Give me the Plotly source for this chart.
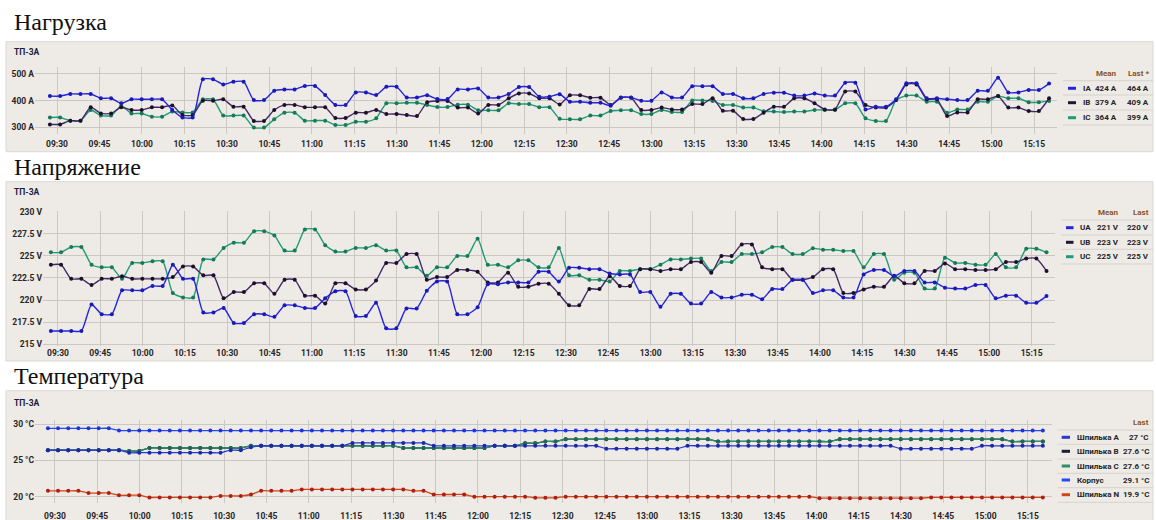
import plotly.graph_objects as go
import pandas as pd

W, H = 1156, 520

# ---------------- data ----------------
times = pd.date_range("2024-01-01 09:27:30", periods=99, freq="216s")  # 3.6 min sampling

ia = [417, 417, 425, 425, 425, 409, 409, 390, 405, 405, 405, 405,
      365, 337, 337,
      480, 480, 461, 471, 471, 402, 402, 437, 442, 442, 455, 455, 421, 384, 384, 431, 431, 421, 452, 452,
      412, 412, 420, 406, 406, 442, 442, 446, 412, 412, 425, 451, 451, 415, 415, 424, 396, 396, 392, 392,
      381, 412, 412, 400, 400, 431, 412, 412, 454, 454, 454, 425, 425, 409, 409, 425, 430,
      430, 419, 419, 427, 419, 419, 467, 467, 367, 377, 377, 405, 465, 465, 409, 409, 405, 402, 402, 437,
      437, 486, 431, 431, 440, 440, 464]
ib = [311, 311, 325, 325, 375, 352, 352, 375, 365, 365, 375, 375, 382, 346, 346, 400, 400, 405, 377, 377,
      324, 324, 365, 384, 384, 375, 375, 375, 335, 335, 355, 355, 365, 350, 350,
      346, 342, 394, 399, 399, 374, 374, 352, 384, 384, 409, 427, 427, 409, 409, 386, 420, 420, 411, 411,
      384, 411, 411, 365, 365, 374, 367, 367, 387, 387, 409, 362, 362, 331, 331, 355, 377,
      377, 409, 409, 390, 367, 367, 434, 434, 384, 374, 374, 402, 461, 461, 405, 405, 342, 356, 356, 405,
      405, 417, 374, 374, 361, 361, 409]
ic = [337, 337, 325, 325, 365, 344, 344, 380, 352, 352, 340, 340, 359, 356, 356, 405, 405, 344, 344, 344,
      299, 299, 330, 355, 355, 325, 325, 325, 309, 309, 321, 321, 334, 390, 390,
      392, 392, 384, 376, 376, 385, 385, 364, 364, 364, 390, 387, 387, 375, 375, 332, 330, 330, 344, 344,
      361, 364, 364, 350, 350, 365, 357, 357, 401, 401, 399, 384, 384, 374, 374, 360, 359,
      357, 359, 359, 365, 365, 365, 390, 390, 334, 324, 324, 402, 419, 419, 396, 396, 355, 367, 367, 396,
      396, 417, 409, 409, 394, 394, 399]

ua = [216.5, 216.5, 216.5, 216.5, 219.5, 218.4, 218.4, 221.1, 221.1, 221.1, 221.6, 221.6, 224.0, 222.4,
      222.4, 218.6, 218.6, 219.1, 217.4, 217.4, 218.4, 218.4, 218.1, 219.4, 219.4, 219.1, 219.1, 220.2,
      221.0, 221.0, 218.2, 218.2, 219.7, 216.8, 216.8,
      219.05, 219.05, 221.05, 222.1, 222.1, 218.4, 218.4, 219.2, 221.8, 221.8, 222.0, 222.0, 222.0, 223.2,
      223.2, 222.1, 223.65, 223.65, 223.5, 223.5, 223.0, 222.9, 222.9, 220.9, 220.9, 219.25, 220.7, 220.7,
      219.6, 219.6, 220.9, 220.3, 220.3, 220.6, 220.6, 220.1, 221.25,
      221.25, 222.3, 222.3, 220.8, 221.1, 221.1, 220.3, 220.3, 222.9, 223.4, 223.4, 222.7, 223.3, 223.3,
      222.0, 222.0, 221.4, 221.3, 221.3, 221.7, 221.7, 220.2, 220.5, 220.5, 219.7, 219.7, 220.45]
ub = [224.0, 224.0, 222.4, 222.4, 221.7, 222.4, 222.4, 222.7, 222.4, 222.4, 222.4, 222.4, 222.6, 223.8,
      223.8, 222.8, 222.8, 220.2, 220.9, 220.9, 221.9, 221.9, 220.7, 222.3, 222.3, 220.5, 220.5, 219.6,
      221.9, 221.9, 221.2, 221.2, 222.2, 224.2, 224.2,
      225.2, 225.2, 222.3, 222.6, 222.6, 223.4, 223.4, 223.2, 222.0, 222.0, 223.1, 221.5, 221.5, 221.85,
      221.85, 220.7, 219.4, 219.4, 221.25, 221.25, 222.7, 221.6, 221.6, 223.5, 223.5, 223.3, 223.5, 223.5,
      224.3, 224.3, 223.1, 225.0, 225.0, 226.3, 226.3, 223.7, 223.5,
      223.5, 222.3, 222.3, 222.6, 223.5, 223.5, 220.8, 220.8, 221.2, 221.5, 221.5, 222.75, 221.9, 221.9,
      223.3, 223.3, 224.15, 223.5, 223.5, 223.4, 223.4, 223.5, 224.3, 224.3, 224.7, 224.7, 223.3]
uc = [225.4, 225.4, 226.0, 226.0, 224.0, 223.7, 223.7, 222.4, 224.2, 224.2, 224.4, 224.4, 220.8, 220.3,
      220.3, 224.6, 224.6, 225.9, 226.5, 226.5, 227.8, 227.8, 227.3, 225.6, 225.6, 228.0, 228.0, 226.2,
      225.5, 225.5, 225.9, 225.9, 226.2, 225.6, 225.6,
      223.7, 223.7, 222.75, 223.7, 223.7, 225.0, 225.0, 226.95, 224.0, 224.0, 223.7, 224.5, 224.5, 223.7,
      223.7, 225.9, 222.8, 222.8, 222.3, 222.3, 222.1, 223.3, 223.3, 223.5, 223.5, 224.0, 224.6, 224.6,
      224.7, 224.7, 223.3, 224.3, 224.3, 225.2, 225.2, 225.4, 226.0,
      226.0, 225.2, 225.2, 225.85, 225.7, 225.7, 225.55, 225.55, 223.7, 225.2, 225.2, 222.3, 223.1, 223.1,
      221.3, 221.3, 224.8, 224.2, 224.2, 224.0, 224.0, 225.2, 223.7, 223.7, 225.8, 225.8, 225.4]

t_a = [26.4, 26.4, 26.4, 26.4, 26.4, 26.4, 26.4, 26.4,
       26.05, 26.05, 26.05, 26.05, 26.05, 26.05, 26.05, 26.05, 26.05, 26.05,
       26.4, 26.4, 26.8,
       27.0, 27.0, 27.0, 27.0, 27.0, 27.0, 27.0, 27.0, 27.0,
       27.4, 27.4, 27.4, 27.4, 27.4, 27.4, 27.4, 27.4,
       27.0, 27.0, 27.0, 27.0, 27.0, 27.0, 27.0, 27.0, 27.0, 27.0, 27.0, 27.0, 27.0, 27.0, 27.0, 27.0, 27.0,
       26.6, 26.6, 26.6, 26.6, 26.6, 26.6, 26.6, 26.6,
       27.0, 27.0, 27.0, 27.0, 27.0, 27.0, 27.0, 27.0, 27.0, 27.0, 27.0, 27.0, 27.0, 27.0, 27.0, 27.0, 27.0,
       27.0, 27.0, 27.0, 27.0,
       26.6, 26.6, 26.6, 26.6, 26.6, 26.6, 26.6, 26.6,
       27.0, 27.0, 27.0, 27.0, 27.0, 27.0, 27.0]
t_c = [26.4, 26.4, 26.4, 26.4, 26.4, 26.4, 26.4, 26.4,
       26.3, 26.3,
       26.7, 26.7, 26.7, 26.7, 26.7, 26.7, 26.7, 26.7, 26.7, 26.7,
       27.0, 27.0, 27.0, 27.0, 27.0, 27.0, 27.0, 27.0, 27.0, 27.0, 27.0, 27.0, 27.0, 27.0, 27.0,
       26.7, 26.7, 26.7, 26.7, 26.7, 26.7, 26.7, 26.7, 26.7,
       27.0, 27.0, 27.0,
       27.35, 27.35,
       27.6, 27.6,
       27.9, 27.9, 27.9, 27.9, 27.9, 27.9, 27.9, 27.9, 27.9, 27.9, 27.9, 27.9, 27.9, 27.9, 27.9,
       27.6, 27.6, 27.6, 27.6, 27.6, 27.6, 27.6, 27.6, 27.6, 27.6, 27.6, 27.6,
       27.9, 27.9, 27.9, 27.9, 27.9, 27.9, 27.9, 27.9, 27.9, 27.9, 27.9, 27.9, 27.9, 27.9, 27.9, 27.9, 27.9,
       27.6, 27.6, 27.6, 27.6]
t_b = list(t_c)
t_body = [29.4, 29.4, 29.4, 29.4, 29.4, 29.4, 29.4] + [29.1] * 92
t_n = [20.8, 20.8, 20.8, 20.8, 20.5, 20.5, 20.5, 20.2, 20.2, 20.2,
       19.9, 19.9, 19.9, 19.9, 19.9, 19.9, 19.9, 20.1, 20.1, 20.1, 20.3,
       20.8, 20.8, 20.8, 20.8,
       21.0, 21.0, 21.0, 21.0, 21.0, 21.0, 21.0, 21.0, 21.0, 21.0, 21.0,
       20.8, 20.8, 20.3, 20.3, 20.3, 20.3,
       20.0, 20.0, 20.0, 20.0, 20.0, 20.0, 19.85, 19.85, 19.85,
       20.0, 20.0, 20.0, 20.0, 20.0, 20.0, 20.0, 20.0, 20.0, 20.0, 20.0, 20.0, 20.0, 20.0, 20.0, 20.0, 20.0,
       20.0, 20.0, 20.0, 20.0, 20.0, 20.0, 20.0, 20.0,
       19.8, 19.8, 19.8, 19.8, 19.8, 19.8, 19.8, 19.8, 19.8, 19.8, 19.8,
       19.9, 19.9, 19.9, 19.9, 19.9, 19.9, 19.9, 19.9, 19.9, 19.9, 19.9, 19.9]

load_ticks = [300, 400, 500]
load_ticktext = ["300 A", "400 A", "500 A"]
volt_ticks = [215, 217.5, 220, 222.5, 225, 227.5, 230]
volt_ticktext = ["215 V", "217.5 V", "220 V", "222.5 V", "225 V", "227.5 V", "230 V"]
temp_ticks = [20, 25, 30]
temp_ticktext = ["20 °C", "25 °C", "30 °C"]

load_names = ["IA", "IB", "IC"]
load_mean = ["424 A", "379 A", "364 A"]
load_last = ["464 A", "409 A", "399 A"]
volt_names = ["UA", "UB", "UC"]
volt_mean = ["221 V", "223 V", "225 V"]
volt_last = ["220 V", "223 V", "225 V"]
temp_names = ["Шпилька A", "Шпилька B", "Шпилька C", "Корпус", "Шпилька N"]
temp_last = ["27 °C", "27.6 °C", "27.6 °C", "29.1 °C", "19.9 °C"]

titles = ["Нагрузка", "Напряжение", "Температура"]
panel_label = "ТП-3А"

# ---------------- styling ----------------
C_BLUE, C_BLUE_M = "#2424e0", "#1a1ab4"
C_DARK, C_DARK_M = "#43286a", "#1c1024"
C_GREEN, C_GREEN_M = "#1e9c76", "#17785a"
T_COLORS = [("#2838d0", "#1c28a8"), ("#1c1c34", "#141428"), ("#2a9070", "#1d6c52"),
            ("#2448ff", "#1c36d8"), ("#d2461c", "#b01e0e")]
PANEL_BG = "#eeeae6"
PANEL_BORDER = "#dcd8d2"
GRID = "#cbc7c2"
TXT = "#262626"
FONT = "Roboto"


def fx(x):
    return x / W


def fy(y):
    return 1 - y / H


fig = go.Figure()


def add(xa, ya, y, name, lc, mc, width=1.4, msize=4):
    fig.add_trace(go.Scatter(
        x=times, y=y, name=name, mode="lines+markers", xaxis=xa, yaxis=ya,
        line=dict(color=lc, width=width, shape="spline", smoothing=0.6),
        marker=dict(color=mc, size=msize), showlegend=False, hoverinfo="skip"))


add("x", "y", ic, "IC", C_GREEN, C_GREEN_M)
add("x", "y", ib, "IB", C_DARK, C_DARK_M)
add("x", "y", ia, "IA", C_BLUE, C_BLUE_M)
add("x2", "y2", uc, "UC", C_GREEN, C_GREEN_M)
add("x2", "y2", ub, "UB", C_DARK, C_DARK_M)
add("x2", "y2", ua, "UA", C_BLUE, C_BLUE_M)
temp_series = [t_a, t_b, t_c, t_body, t_n]
for idx in [1, 2, 0, 3, 4]:
    add("x3", "y3", temp_series[idx], temp_names[idx], T_COLORS[idx][0], T_COLORS[idx][1],
        width=1.3, msize=4)

tickfont = dict(family=FONT, size=8.5, color=TXT, weight="bold")


def xaxis(dom, rng, standoff):
    return dict(domain=[fx(dom[0]), fx(dom[1])], type="date",
                range=["2024-01-01 " + rng[0], "2024-01-01 " + rng[1]],
                tickformat="%H:%M", dtick=15 * 60 * 1000, tick0="2024-01-01 09:30",
                showgrid=True, gridcolor=GRID, gridwidth=1, zeroline=False, showline=False,
                ticks="", tickfont=tickfont, automargin=False, fixedrange=True,
                ticklabelstandoff=standoff)


def yaxis(dom, rng, tv, tt, xa):
    return dict(domain=[fy(dom[1]), fy(dom[0])], range=rng, tickvals=tv, ticktext=tt,
                showgrid=True, gridcolor=GRID, gridwidth=1, zeroline=False, showline=False,
                ticks="", tickfont=tickfont, automargin=False, anchor=xa, fixedrange=True)


fig.update_layout(
    width=W, height=H, margin=dict(l=0, r=0, t=0, b=0),
    paper_bgcolor="white", plot_bgcolor="rgba(0,0,0,0)",
    xaxis=dict(xaxis((35, 1057), ("09:22:14", "15:23:06"), 3), anchor="y"),
    yaxis=yaxis((67, 134), [274.9, 526.2], load_ticks, load_ticktext, "x"),
    xaxis2=dict(xaxis((43, 1055), ("09:24:42", "15:23:18"), 0), anchor="y2"),
    yaxis2=yaxis((211, 346), [214.8, 230.08], volt_ticks, volt_ticktext, "x2"),
    xaxis3=dict(xaxis((35, 1052), ("09:22:55", "15:23:33"), 6), anchor="y3"),
    yaxis3=yaxis((420, 503), [19.13, 30.55], temp_ticks, temp_ticktext, "x3"),
)

shapes = []
annotations = []

# panels
for (top, bottom) in [(41.7, 151.7), (181.7, 361), (390.7, 530)]:
    shapes.append(dict(type="rect", xref="paper", yref="paper", x0=fx(6), x1=fx(1153),
                       y0=fy(bottom), y1=fy(top), fillcolor=PANEL_BG,
                       line=dict(color=PANEL_BORDER, width=1), layer="below"))

# section titles
for title, yc in zip(titles, [22.5, 166.5, 375.5]):
    annotations.append(dict(text=title, xref="paper", yref="paper", x=fx(12), y=fy(yc),
                            xanchor="left", yanchor="middle", showarrow=False,
                            font=dict(family="Liberation Serif", size=24, color="#111")))

# panel labels
for yc in [52.5, 191.7, 402.7]:
    annotations.append(dict(text=panel_label, xref="paper", yref="paper", x=fx(11.5), y=fy(yc),
                            xanchor="left", yanchor="middle", showarrow=False,
                            font=dict(family=FONT, size=8.5, color="#1c1c3c", weight="bold")))

legfont = dict(family=FONT, size=8, color=TXT, weight="bold")
hdrfont = dict(family=FONT, size=8, color="#8a5526", weight="bold")


def ann(text, x, y, anchor, font):
    annotations.append(dict(text=text, xref="paper", yref="paper", x=fx(x), y=fy(y),
                            xanchor=anchor, yanchor="middle", showarrow=False, font=font))


def hline(x0, x1, y, color, width):
    shapes.append(dict(type="line", xref="paper", yref="paper", x0=fx(x0), x1=fx(x1),
                       y0=fy(y), y1=fy(y), line=dict(color=color, width=width)))


# legend: load
ann("Mean", 1119, 73.3, "right", hdrfont)
ann("Last *", 1151, 73.3, "right", hdrfont)
for y in [80.7, 95, 110, 125]:
    hline(1063, 1153, y, "#d6d2cc", 1)
for i, (yc, col) in enumerate(zip([88.3, 102.7, 117.7], [C_BLUE, "#1c1a2e", C_GREEN])):
    hline(1068, 1076, yc, col, 3)
    ann(load_names[i], 1081, yc, "left", legfont)
    ann(load_mean[i], 1119, yc, "right", legfont)
    ann(load_last[i], 1151, yc, "right", legfont)

# legend: voltage
ann("Mean", 1120.5, 212.7, "right", hdrfont)
ann("Last", 1150.5, 212.7, "right", hdrfont)
for y in [220, 235, 249.3, 264]:
    hline(1061, 1153, y, "#d6d2cc", 1)
for i, (yc, col) in enumerate(zip([227.7, 242.3, 256.7], [C_BLUE, "#1c1a2e", C_GREEN])):
    hline(1066, 1073.5, yc, col, 3)
    ann(volt_names[i], 1078, yc, "left", legfont)
    ann(volt_mean[i], 1120.5, yc, "right", legfont)
    ann(volt_last[i], 1150.5, yc, "right", legfont)

# legend: temperature
ann("Last", 1150.5, 422.3, "right", hdrfont)
for y in [430, 444.3, 459, 473.3, 487.7, 502.3]:
    hline(1057.7, 1153, y, "#d6d2cc", 1)
for i, yc in enumerate([437.3, 451.3, 466, 480, 494.7]):
    hline(1061.7, 1070, yc, T_COLORS[i][0], 3)
    ann(temp_names[i], 1075, yc, "left", legfont)
    ann(temp_last[i], 1150.5, yc, "right", legfont)

fig.update_layout(shapes=shapes, annotations=annotations)
fig.write_html("out.html", config={"displayModeBar": False, "staticPlot": True},
               post_script="document.body.style.margin='0';document.body.style.overflow='hidden';")
